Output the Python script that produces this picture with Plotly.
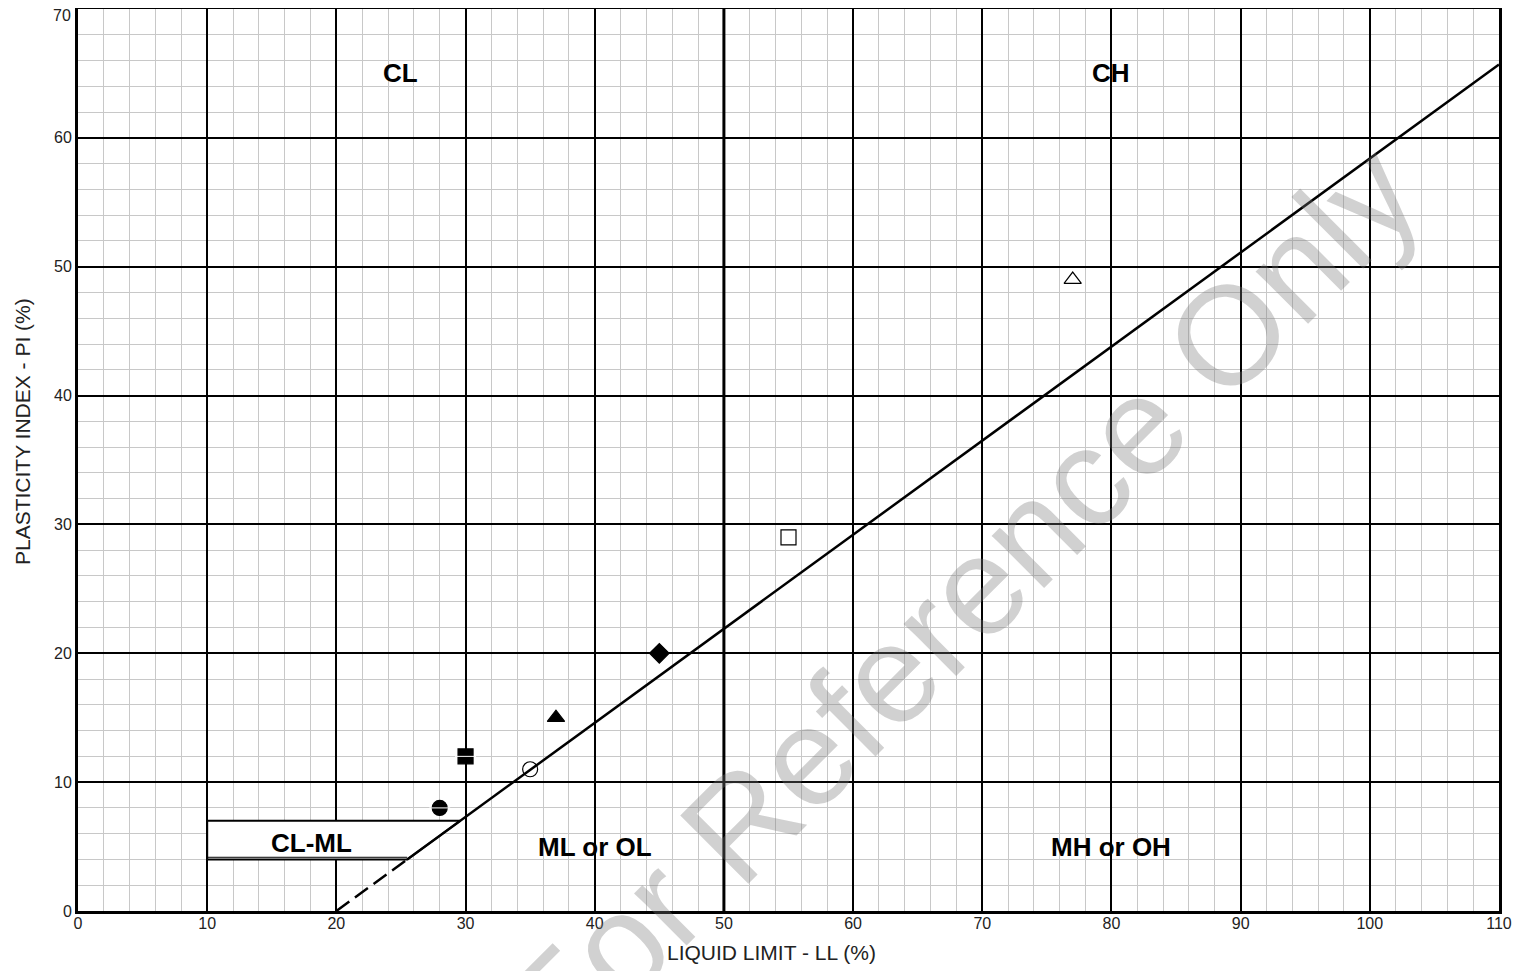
import plotly.graph_objects as go

# ---- data ----
sample_ll = [28, 30, 35, 37, 45, 55, 77]
sample_pi = [8, 12, 11, 15, 20, 29, 49]
sample_symbols = ["circle", "square", "circle-open", "triangle-up", "diamond", "square-open", "triangle-up-open"]

# filled samples that show a white bar through the symbol
barred_ll = [28, 30]
barred_pi = [8, 12]

aline_dash_ll = [20, 25.48]
aline_dash_pi = [0, 4]
aline_ll = [25.48, 110]
aline_pi = [4, 65.7]

clml_ll = [10, 10, 29.59, 25.48, 10]
clml_pi = [4, 7, 7, 4, 4]

zone_labels = ["CL", "CH", "CL-ML", "ML or OL", "MH or OH"]
zone_ll = [25, 80, 18.1, 40, 80]
zone_pi = [65, 65, 5.3, 5, 5]

x_ticks = [0, 10, 20, 30, 40, 50, 60, 70, 80, 90, 100, 110]
y_ticks = [0, 10, 20, 30, 40, 50, 60]
y_top_tick = 70
x_minor = [v for v in range(0, 111, 2) if v % 10]
y_minor = [v for v in range(0, 71, 2) if v % 10]

FONT = "Liberation Sans, Arial, sans-serif"

fig = go.Figure()

# CL-ML box
fig.add_trace(go.Scatter(x=clml_ll, y=clml_pi, mode="lines",
                         line=dict(color="black", width=2), fill="toself",
                         fillcolor="rgba(255,255,255,1)", hoverinfo="skip", showlegend=False))
fig.add_trace(go.Scatter(x=[clml_ll[0], clml_ll[3]], y=[clml_pi[0] + 0.17, clml_pi[3] + 0.17], mode="lines",
                         line=dict(color="black", width=1), hoverinfo="skip", showlegend=False))

# A-line
fig.add_trace(go.Scatter(x=aline_dash_ll, y=aline_dash_pi, mode="lines",
                         line=dict(color="black", width=2.5, dash="16px,7px"), showlegend=False))
fig.add_trace(go.Scatter(x=aline_ll, y=aline_pi, mode="lines",
                         line=dict(color="black", width=2.5), showlegend=False))

# samples
fig.add_trace(go.Scatter(
    x=sample_ll, y=sample_pi, mode="markers",
    marker=dict(symbol=sample_symbols, size=15, color="black",
                line=dict(color="black", width=1.2)),
    showlegend=False))
fig.add_trace(go.Scatter(
    x=barred_ll, y=barred_pi, mode="markers",
    marker=dict(symbol="line-ew", size=15, color="white",
                line=dict(color="white", width=1)),
    hoverinfo="skip", showlegend=False))

# zone labels
for t, x, y in zip(zone_labels, zone_ll, zone_pi):
    fig.add_annotation(x=x, y=y, text="<b>%s</b>" % t, showarrow=False,
                       font=dict(family=FONT, size=26, color="black"))

# thick 50 line
fig.add_shape(type="line", x0=50, x1=50, y0=0, y1=70, xref="x", yref="y",
              line=dict(color="black", width=3), layer="above")

# top y tick label (kept inside the page)
fig.add_annotation(x=0, y=y_top_tick, xref="paper", yref="y", text=str(y_top_tick),
                   showarrow=False, xanchor="right", yanchor="middle", xshift=-5, yshift=-6,
                   font=dict(family=FONT, size=16, color="#222"))

# watermark
fig.add_annotation(x=0.622, y=0.343, xref="paper", yref="paper", text="For Reference Only",
                   showarrow=False, textangle=-45,
                   font=dict(family=FONT, size=140, color="rgba(120,120,120,0.34)"))

# axis titles
fig.add_annotation(x=0.488, y=-0.0455, xref="paper", yref="paper", text="LIQUID LIMIT - LL (%)",
                   showarrow=False, yanchor="middle", font=dict(family=FONT, size=21, color="#222"))
fig.add_annotation(x=-0.0394, y=0.531, xref="paper", yref="paper", text="PLASTICITY INDEX - PI (%)",
                   showarrow=False, textangle=-90, xanchor="center", yanchor="middle",
                   font=dict(family=FONT, size=21, color="#222"))

fig.update_layout(
    width=1514, height=963,
    margin=dict(l=70, r=23, t=1, b=60),
    paper_bgcolor="white", plot_bgcolor="white",
    font=dict(family=FONT, size=16, color="#222"),
    xaxis=dict(range=[0, 110], tickmode="array", tickvals=x_ticks, showgrid=True,
               gridcolor="black", gridwidth=1.5,
               minor=dict(tickmode="array", tickvals=x_minor, showgrid=True, gridcolor="#c8c8c8", gridwidth=1),
               showline=True, linecolor="black", linewidth=3, mirror=True, zeroline=False,
               ticks="", tickfont=dict(size=16, color="#222"), automargin=False,
               ticklabelstandoff=-4),
    yaxis=dict(range=[0, 70], tickmode="array", tickvals=y_ticks, showgrid=True,
               gridcolor="black", gridwidth=1.5,
               minor=dict(tickmode="array", tickvals=y_minor, showgrid=True, gridcolor="#c8c8c8", gridwidth=1),
               showline=True, linecolor="black", linewidth=3, mirror=True, zeroline=False,
               ticks="", tickfont=dict(size=16, color="#222"), automargin=False),
)

fig.write_html("out.html")
